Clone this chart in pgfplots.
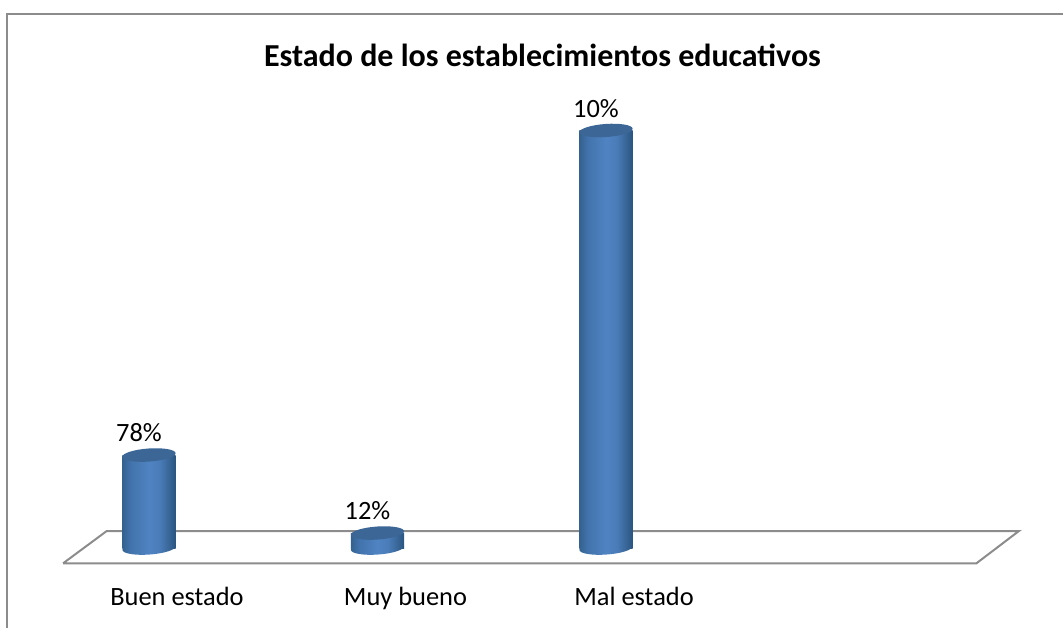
\documentclass[border=0pt]{standalone}
\usepackage{fontspec}
\usepackage{pgfplots}
\usepackage{pgfplotstable}
\pgfplotsset{compat=1.18}
\setmainfont{Carlito}
\definecolor{framegray}{HTML}{8C8C8C}
\definecolor{capblue}{HTML}{3B6696}
\definecolor{cyla}{HTML}{33628F}
\definecolor{cylb}{HTML}{4273AC}
\definecolor{cylc}{HTML}{4F83C2}
\definecolor{cyld}{HTML}{4A7CB8}
\definecolor{cyle}{HTML}{386596}
\definecolor{cylf}{HTML}{2A5480}
% cylinder body: dark edges, lighter middle (path bbox is 25bp..75bp)
\pgfdeclarehorizontalshading{cylbar}{100bp}{
  color(0bp)=(cyla);
  color(25bp)=(cyla);
  color(33bp)=(cylb);
  color(50bp)=(cylc);
  color(60bp)=(cyld);
  color(69bp)=(cyle);
  color(75bp)=(cylf);
  color(100bp)=(cylf)}
\pgfdeclareplotmark{cylcap}{%
  \pgftransformrotate{4}\pgfsetfillcolor{capblue}%
  \pgfpathellipse{\pgfpointorigin}{\pgfpoint{20pt}{0pt}}{\pgfpoint{0pt}{4.9pt}}%
  \pgfusepathqfill}
\pgfdeclareplotmark{cylbase}{%
  \pgftransformrotate{4}%
  \pgfpathellipse{\pgfpointorigin}{\pgfpoint{20pt}{0pt}}{\pgfpoint{0pt}{4.9pt}}%
  \pgfshadepath{cylbar}{0}\pgfusepath{discard}}
\pgfplotstableread{
x h base lab
0 93.0 0 78\%
1 15.0 0 12\%
2 417.5 0 10\%
}\bars
\begin{document}
\begin{tikzpicture}
\begin{axis}[
    name=ax,
    scale only axis,
    width=797.25pt,
    height=422.5pt,
    xmin=-0.652, xmax=4.0,
    ymin=-15.3, ymax=548,
    clip=false,
    axis line style={draw=none},
    tick style={draw=none},
    major tick length=0pt,
    ytick=\empty,
    xtick={0,1,2},
    xticklabels={Buen estado,Muy bueno,Mal estado},
    xticklabel style={anchor=base,yshift=-31.3pt,xshift=21pt,font=\fontsize{19.8}{22}\selectfont},
    title={\textbf{Estado de los establecimientos educativos}},
    title style={at={(rel axis cs:0.5103,0.867)},anchor=base,font=\fontsize{24}{26}\selectfont},
]
% chart frame, top and left only
\addplot[framegray,line width=1.5pt,no marks] coordinates {(-0.621,-80) (-0.621,534) (4.0,534)};
% floor of the 3d plot
\addplot[framegray,line width=1.5pt,no marks] coordinates {(-0.376,-15.3) (3.621,-15.3) (3.807,17) (-0.185,17) (-0.376,-15.3)};
% cylinders: base, body, cap
\addplot[only marks,mark=cylbase] table[x=x,y=base] {\bars};
\pgfplotsinvokeforeach{0,1,2}{
  \addplot[ybar,bar width=40pt,bar shift=0pt,draw=none,shade,shading=cylbar,restrict x to domain=#1:#1] table[x=x,y=h] {\bars};
}
\addplot[only marks,mark=cylcap,
    point meta=explicit symbolic,
    nodes near coords,
    every node near coord/.style={anchor=base,xshift=-7.5pt,yshift=10pt,font=\fontsize{19.8}{22}\selectfont,text=black}]
    table[x=x,y=h,meta=lab] {\bars};
\end{axis}
\pgfresetboundingbox
\path (ax.south west) ++(0,-48.75pt) rectangle (ax.north east);
\end{tikzpicture}
\end{document}
